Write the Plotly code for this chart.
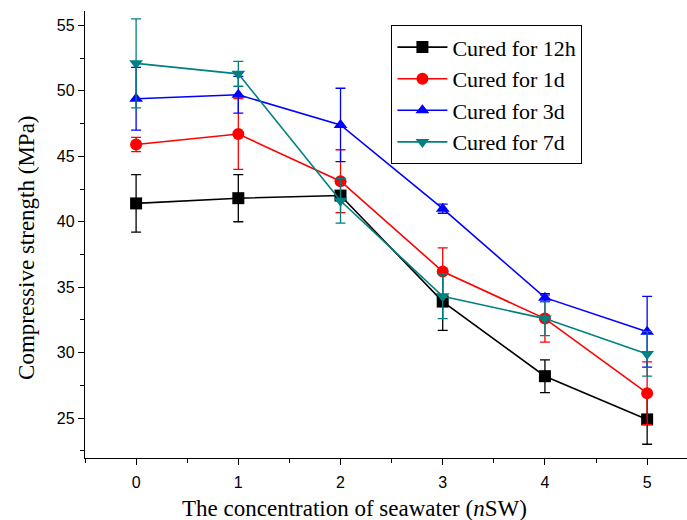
import plotly.graph_objects as go

# Seawater concentration levels (nSW)
concentration = [0, 1, 2, 3, 4, 5]

# Mean compressive strength (MPa) and standard deviation for each curing age
strength_12h = [41.4, 41.8, 42.0, 33.9, 28.2, 24.9]
err_12h = [2.2, 1.8, 0.3, 2.2, 1.25, 1.9]

strength_1d = [45.9, 46.7, 43.1, 36.2, 32.6, 26.9]
err_1d = [0.55, 2.7, 2.4, 1.8, 1.8, 2.4]

strength_3d = [49.4, 49.7, 47.4, 41.0, 34.2, 31.6]
err_3d = [2.4, 1.4, 2.8, 0.35, 0.3, 2.7]

strength_7d = [52.1, 51.3, 41.6, 34.3, 32.6, 29.9]
err_7d = [3.4, 0.95, 1.7, 1.7, 1.3, 1.7]

series = [
    ("Cured for 12h", strength_12h, err_12h, "#000000", "square"),
    ("Cured for 1d", strength_1d, err_1d, "#FF0000", "circle"),
    ("Cured for 3d", strength_3d, err_3d, "#0000FF", "triangle-up"),
    ("Cured for 7d", strength_7d, err_7d, "#008080", "triangle-down"),
]

fig = go.Figure()
for name, vals, errs, color, symbol in series:
    fig.add_trace(go.Scatter(
        x=concentration, y=vals, name=name, mode="lines+markers",
        line=dict(color=color, width=1.6),
        marker=dict(symbol=symbol, size=12, color=color),
        error_y=dict(type="data", array=errs, visible=True,
                     color=color, thickness=1.3, width=5),
    ))

axis_common = dict(
    showline=True, linecolor="black", linewidth=1.3,
    ticks="outside", ticklen=6, tickwidth=1.3, tickcolor="black",
    showgrid=False, zeroline=False, mirror=False,
    tickfont=dict(family="Liberation Sans, Arial", size=16, color="black"),
)

serif = "Liberation Serif, Times New Roman"
title_font = dict(family=serif, size=23, color="black")

fig.update_layout(
    width=687, height=520,
    margin=dict(l=85, r=0, t=11, b=62),
    plot_bgcolor="white", paper_bgcolor="white",
    showlegend=True,
    legend=dict(
        x=0.509, y=0.968, xanchor="left", yanchor="top",
        bordercolor="black", borderwidth=1, bgcolor="white",
        font=dict(family=serif, size=22, color="black"),
        itemwidth=50, tracegroupgap=0,
    ),
    xaxis=dict(
        range=[-0.5, 5.39], tickvals=concentration, **axis_common,
        ticklabelstandoff=4,
        minor=dict(ticks="outside", ticklen=4, tickwidth=1.2, tickcolor="black", dtick=0.5),
    ),
    yaxis=dict(
        range=[21.95, 56.1], tickvals=[25, 30, 35, 40, 45, 50, 55], **axis_common,
        minor=dict(ticks="outside", ticklen=4, tickwidth=1.2, tickcolor="black", dtick=2.5),
    ),
    annotations=[
        # axis titles, centred on the full axis extent
        dict(text="The concentration of seawater (<i>n</i>SW)", xref="paper", yref="paper",
             x=0.447, y=-0.112, xanchor="center", yanchor="middle",
             showarrow=False, font=title_font),
        dict(text="Compressive strength (MPa)", xref="paper", yref="paper",
             x=-0.0963, y=0.47, xanchor="center", yanchor="middle", textangle=-90,
             showarrow=False, font=title_font),
    ],
)

fig.write_html("out.html")
